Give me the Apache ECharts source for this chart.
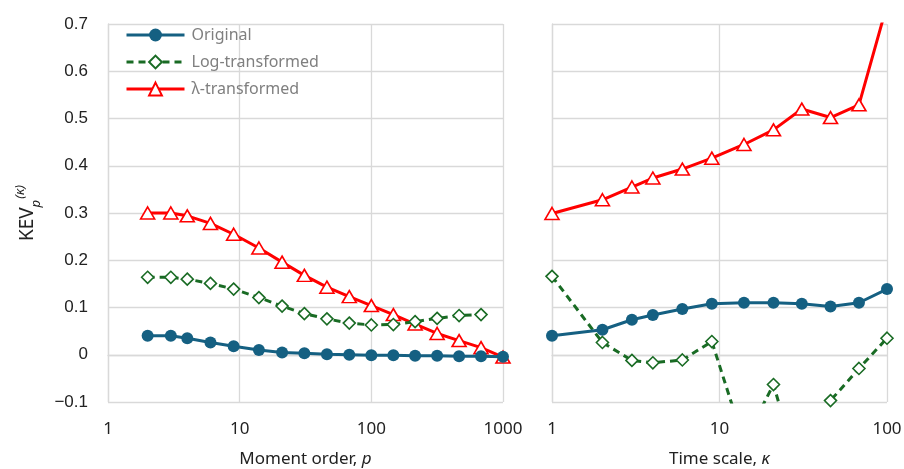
<!DOCTYPE html>
<html>
<head>
<meta charset="utf-8">
<script src="https://cdn.jsdelivr.net/npm/echarts@6/dist/echarts.min.js"></script>
<style>
  html, body { margin: 0; padding: 0; background: #fff; }
  #chart { width: 904px; height: 469px; }
</style>
</head>
<body>
<div id="chart"></div>
<script>
// Moment order p (left panel) and time scale κ (right panel)
const momentOrder = [2, 3, 4, 6, 9, 14, 21, 31, 46, 68, 100, 147, 215, 316, 464, 681, 1000];
const timeScale = [1, 2, 3, 4, 6, 9, 14, 21, 31, 46, 68, 100];

// KEV vs moment order
const originalByP = [0.040, 0.040, 0.035, 0.026, 0.018, 0.010, 0.005, 0.003, 0.001, 0.000, -0.001, -0.001, -0.002, -0.002, -0.003, -0.003, -0.004];
const logByP = [0.164, 0.164, 0.160, 0.151, 0.139, 0.121, 0.103, 0.087, 0.076, 0.067, 0.063, 0.064, 0.070, 0.077, 0.083, 0.085];
const lambdaByP = [0.300, 0.300, 0.294, 0.278, 0.255, 0.226, 0.196, 0.168, 0.143, 0.123, 0.104, 0.085, 0.065, 0.045, 0.030, 0.015, -0.005];

// KEV vs time scale
const originalByK = [0.040, 0.053, 0.074, 0.084, 0.097, 0.108, 0.110, 0.110, 0.108, 0.102, 0.110, 0.139];
const logByK = [0.166, 0.026, -0.012, -0.017, -0.011, 0.028, -0.185, -0.063, -0.27, -0.097, -0.029, 0.035];
const lambdaByK = [0.299, 0.328, 0.355, 0.374, 0.393, 0.416, 0.445, 0.476, 0.520, 0.502, 0.529, 0.74];

const seriesNames = ['Original', 'Log-transformed', 'λ-transformed'];
const xTicks = ['1', '10', '100', '1000'];

const BLUE = '#156082';
const GREEN = '#196B24';
const RED = '#FF0000';
const GRID = '#d9d9d9';

function pairs(xs, ys) {
  return ys.map((y, i) => [xs[i], y]);
}

function fmtY(v) {
  const r = Math.round(v * 10) / 10;
  if (r === 0) return '0';
  return r < 0 ? '\u2212' + Math.abs(r).toFixed(1) : r.toFixed(1);
}

const styles = [
  { color: BLUE, symbol: 'circle', size: 12, fill: BLUE, dash: 'solid', bw: 0 },
  { color: GREEN, symbol: 'diamond', size: 12, fill: '#fff', dash: [7, 5], bw: 1.6 },
  { color: RED, symbol: 'triangle', size: [14, 12], fill: '#fff', dash: 'solid', bw: 1.6 }
];

function makeSeries(name, idx, xAxisIndex, data) {
  const s = styles[idx];
  return {
    name: name,
    type: 'line',
    xAxisIndex: xAxisIndex,
    yAxisIndex: xAxisIndex,
    data: data,
    symbol: s.symbol,
    symbolSize: s.size,
    showAllSymbol: true,
    clip: true,
    lineStyle: { color: s.color, width: 3, type: s.dash },
    itemStyle: { color: s.fill, borderColor: s.color, borderWidth: s.bw, opacity: 1 },
    emphasis: { disabled: true },
    animation: false,
    z: 3 - idx
  };
}

function makeX(gridIndex, name, max) {
  return {
    type: 'log',
    logBase: 10,
    gridIndex: gridIndex,
    min: 1,
    max: max,
    name: name,
    nameLocation: 'middle',
    nameGap: 49,
    nameTextStyle: {
      fontFamily: 'Noto Sans', fontSize: 17, color: '#222',
      rich: {
        n: { fontFamily: 'Noto Sans', fontSize: 17, color: '#222' },
        i: { fontFamily: 'Noto Sans', fontSize: 17, color: '#222', fontStyle: 'italic' }
      }
    },
    axisLine: { show: true, lineStyle: { color: GRID, width: 1.3 } },
    axisTick: { show: false },
    minorTick: { show: false },
    axisLabel: {
      fontFamily: 'Noto Sans', fontSize: 17, color: '#222', margin: 19,
      formatter: v => {
        const s = String(Math.round(v));
        return xTicks.indexOf(s) >= 0 ? s : '';
      }
    },
    splitLine: { show: true, lineStyle: { color: GRID, width: 1.3 } }
  };
}

function makeY(gridIndex, showLabels) {
  return {
    type: 'value',
    gridIndex: gridIndex,
    min: -0.1,
    max: 0.7,
    interval: 0.1,
    axisLine: { show: true, lineStyle: { color: GRID, width: 1.3 } },
    axisTick: { show: false },
    axisLabel: {
      show: showLabels,
      fontFamily: 'Liberation Sans', fontSize: 17, color: '#222', margin: 20,
      formatter: fmtY
    },
    splitLine: { show: true, lineStyle: { color: GRID, width: 1.3 } }
  };
}

const yLeft = makeY(0, true);
yLeft.name = '{a|KEV}{sub|p}{sup|(κ)}';
yLeft.nameLocation = 'middle';
yLeft.nameGap = 68;
yLeft.nameTextStyle = {
  rich: {
    a: { fontFamily: 'Noto Sans', fontSize: 19, color: '#222', lineHeight: 24, verticalAlign: 'middle' },
    sub: { fontFamily: 'Noto Sans', fontSize: 13, color: '#222', fontStyle: 'italic', verticalAlign: 'bottom', lineHeight: 24, padding: [0, 0, -3, 0] },
    sup: { fontFamily: 'Noto Sans', fontSize: 13, color: '#222', fontStyle: 'italic', verticalAlign: 'top', lineHeight: 24, padding: [-2, 0, 0, 1] }
  }
};

const option = {
  backgroundColor: '#fff',
  animation: false,
  legend: {
    data: seriesNames,
    orient: 'vertical',
    left: 125,
    top: 27,
    itemWidth: 58,
    itemHeight: 16,
    itemGap: 11,
    padding: 0,
    lineStyle: { width: 3 },
    textStyle: { fontFamily: 'Noto Sans', fontSize: 16, color: '#7f7f7f', padding: [0, 0, 0, 2] },
    selectedMode: false
  },
  grid: [
    { left: 108, right: 401, top: 24, bottom: 67, outerBoundsMode: 'none' },
    { left: 552, right: 17, top: 24, bottom: 67, outerBoundsMode: 'none' }
  ],
  xAxis: [
    makeX(0, '{n|Moment order, }{i|p}', 1000),
    makeX(1, '{n|Time scale, }{i|κ}', 100)
  ],
  yAxis: [yLeft, makeY(1, false)],
  series: [
    makeSeries(seriesNames[0], 0, 0, pairs(momentOrder, originalByP)),
    makeSeries(seriesNames[1], 1, 0, pairs(momentOrder, logByP)),
    makeSeries(seriesNames[2], 2, 0, pairs(momentOrder, lambdaByP)),
    makeSeries(seriesNames[0], 0, 1, pairs(timeScale, originalByK)),
    makeSeries(seriesNames[1], 1, 1, pairs(timeScale, logByK)),
    makeSeries(seriesNames[2], 2, 1, pairs(timeScale, lambdaByK))
  ]
};

const chart = echarts.init(document.getElementById('chart'), null, { renderer: 'canvas' });
chart.setOption(option);
</script>
</body>
</html>
